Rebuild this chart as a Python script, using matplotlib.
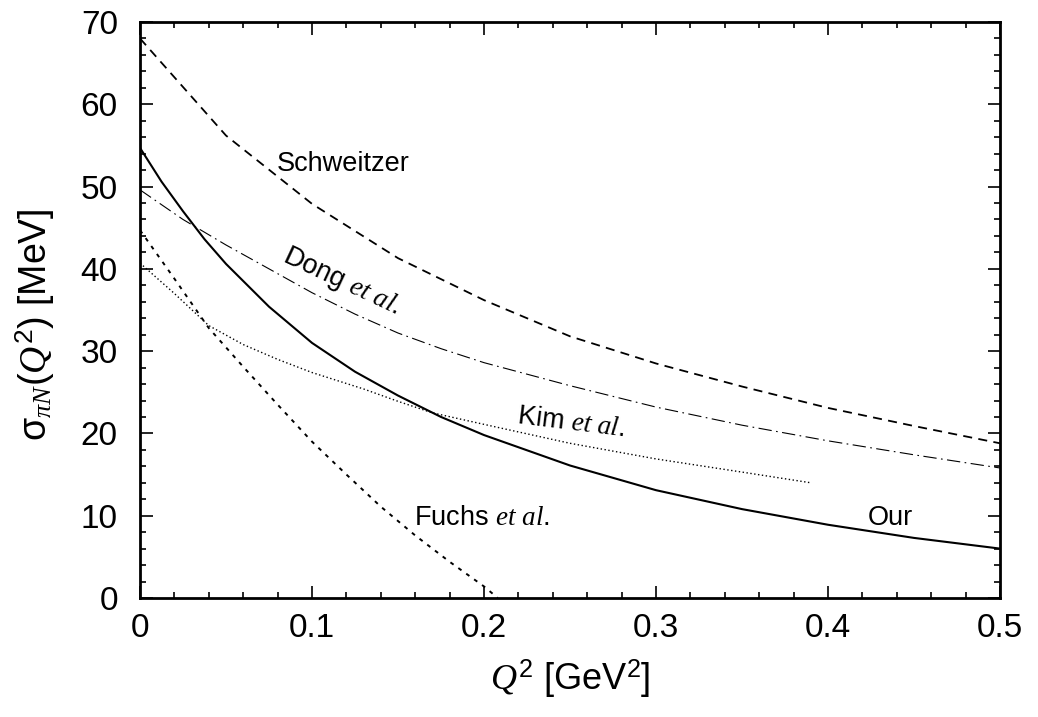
import matplotlib
matplotlib.use("Agg")
import matplotlib.pyplot as plt
from matplotlib.ticker import MultipleLocator

plt.rcParams['font.family'] = ['Liberation Sans', 'DejaVu Sans']
plt.rcParams['mathtext.fontset'] = 'custom'
plt.rcParams['mathtext.rm'] = 'Liberation Sans'
plt.rcParams['mathtext.it'] = 'Liberation Serif:italic'
plt.rcParams['mathtext.bf'] = 'Liberation Sans:bold'

# Schweitzer (dashed)
q2_schw = [0.0, 0.05, 0.1, 0.15, 0.2, 0.25, 0.3, 0.35, 0.4, 0.45, 0.5]
sig_schw = [68.0, 56.2, 47.9, 41.3, 36.2, 31.8, 28.5, 25.7, 23.1, 20.9, 18.8]

# Our (solid)
q2_our = [0.0, 0.0125, 0.025, 0.0375, 0.05, 0.075, 0.1, 0.125, 0.15, 0.175, 0.2,
          0.25, 0.3, 0.35, 0.4, 0.45, 0.5]
sig_our = [54.7, 50.6, 47.0, 43.6, 40.6, 35.4, 31.0, 27.5, 24.6, 22.0, 19.8,
           16.1, 13.1, 10.8, 8.9, 7.3, 6.0]

# Dong et al. (dash-dot)
q2_dong = [0.0, 0.025, 0.05, 0.075, 0.1, 0.125, 0.15, 0.175, 0.2, 0.25, 0.3, 0.35, 0.4, 0.45, 0.5]
sig_dong = [49.6, 46.0, 42.9, 40.0, 37.1, 34.5, 32.2, 30.3, 28.6, 25.8, 23.2, 21.0, 19.1, 17.4, 15.8]

# Kim et al. (dotted)
q2_kim = [0.0, 0.02, 0.04, 0.06, 0.08, 0.1, 0.13, 0.15, 0.17, 0.2, 0.25, 0.3, 0.35, 0.39]
sig_kim = [40.7, 37.0, 33.1, 30.8, 29.0, 27.4, 25.4, 23.9, 22.5, 21.1, 18.8, 16.9, 15.3, 14.0]

# Fuchs et al. (short dashes)
q2_fuchs = [0.0, 0.02, 0.04, 0.06, 0.08, 0.1, 0.12, 0.14, 0.16, 0.18, 0.2, 0.208]
sig_fuchs = [44.7, 38.8, 32.8, 28.1, 23.5, 19.0, 15.0, 11.1, 7.6, 4.4, 1.4, 0.0]

fig = plt.figure(figsize=(10.38, 7.17), dpi=100)
ax = fig.add_axes([0.1349, 0.166, 0.8285, 0.8033])

ax.plot(q2_schw, sig_schw, color='black', lw=1.3, ls=(0, (5, 3.5)))
ax.plot(q2_our, sig_our, color='black', lw=1.5, ls='-')
ax.plot(q2_dong, sig_dong, color='black', lw=0.8, ls=(0, (12, 4, 1.5, 4)))
ax.plot(q2_kim, sig_kim, color='black', lw=1.0, ls=(0, (1, 1.8)))
ax.plot(q2_fuchs, sig_fuchs, color='black', lw=1.4, ls=(0, (2, 3)))

ax.set_xlim(0, 0.5)
ax.set_ylim(0, 70)
ax.xaxis.set_minor_locator(MultipleLocator(0.02))
ax.yaxis.set_major_locator(MultipleLocator(10))
ax.yaxis.set_minor_locator(MultipleLocator(2))
ax.set_xticks([0, 0.1, 0.2, 0.3, 0.4, 0.5])
ax.set_xticklabels(['0', '0.1', '0.2', '0.3', '0.4', '0.5'])
ax.tick_params(which='both', direction='in', top=True, right=True, labelsize=24, width=1.2)
ax.tick_params(which='major', length=9)
ax.tick_params(axis='y', which='major', pad=16)
ax.tick_params(axis='x', which='major', pad=11)
ax.tick_params(which='minor', length=4.5)
for s in ax.spines.values():
    s.set_linewidth(2)

ax.set_xlabel(r'$Q^2$ [GeV$^2$]', fontsize=26, labelpad=10)
ax.set_ylabel(r'$\mathrm{\sigma}_{\pi N}(Q^2)$ [MeV]', fontsize=27)
ax.yaxis.set_label_coords(-0.097, 0.475)

fs = 19.5
ax.text(0.118, 52.7, 'Schweitzer', fontsize=fs, ha='center', va='center')
ax.text(0.117, 38.5, r'Dong $et\ al.$', fontsize=fs, ha='center', va='center', rotation=-25)
ax.text(0.2506, 21.3, r'Kim $et\ al.$', fontsize=fs, ha='center', va='center', rotation=-7)
ax.text(0.199, 9.7, r'Fuchs $et\ al.$', fontsize=fs, ha='center', va='center')
ax.text(0.436, 9.7, 'Our', fontsize=fs, ha='center', va='center')

fig.savefig('out.png', dpi=100)
